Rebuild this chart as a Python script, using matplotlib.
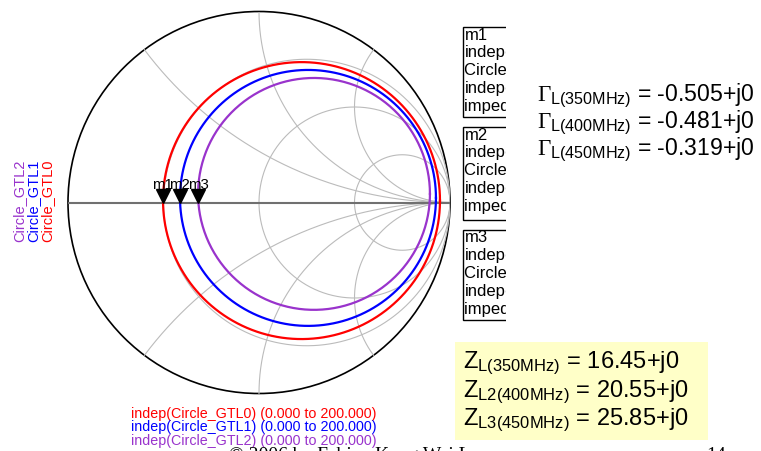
import numpy as np
import matplotlib
matplotlib.use('Agg')
import matplotlib.pyplot as plt
from matplotlib.patches import Rectangle, Circle
from matplotlib.transforms import offset_copy

plt.rcParams['font.family'] = ['Liberation Sans', 'DejaVu Sans']
plt.rcParams['mathtext.fontset'] = 'custom'
plt.rcParams['mathtext.rm'] = 'Liberation Serif'
plt.rcParams['mathtext.sf'] = 'Liberation Sans'
plt.rcParams['mathtext.it'] = 'Liberation Serif:italic'

W, H = 761, 451

# traces (reflection-coefficient plane)
trace_names = ['Circle_GTL0', 'Circle_GTL1', 'Circle_GTL2']
trace_colors = ['#FF0000', '#0000FF', '#9933CC']
trace_cx = [0.2225, 0.2565, 0.288]
trace_cy = [0.010, 0.024, 0.045]
trace_r = [0.725, 0.670, 0.607]

marker_names = ['m1', 'm2', 'm3']
marker_gamma = [-0.503, -0.414, -0.319]
marker_impedance = [0.329, 0.411, 0.517]

sweep_start, sweep_stop = 0.0, 200.0

gamma_freqs = ['350MHz', '400MHz', '450MHz']
gamma_values = ['-0.505+j0', '-0.481+j0', '-0.319+j0']
z_subs = ['L(350MHz)', 'L2(400MHz)', 'L3(450MHz)']
z_values = ['16.45+j0', '20.55+j0', '25.85+j0']

grid_r = [1 / 3, 1, 3]
grid_x = [0.5, 1, 2]
grid_col = '#BBBBBB'


def fx(px):
    return px / W


def fy(py):
    return 1 - py / H


fig = plt.figure(figsize=(W / 100, H / 100), dpi=100)

# smith chart
ax = fig.add_axes([fx(68), fy(393.5), 382 / W, 382 / H])
ax.set_xlim(-1, 1)
ax.set_ylim(-1, 1)
ax.set_axis_off()

t = np.linspace(0, 2 * np.pi, 500)
for r in grid_r:
    c = r / (1 + r)
    rad = 1 / (1 + r)
    ax.plot(c + rad * np.cos(t), rad * np.sin(t), color=grid_col, lw=0.8)
rr = np.concatenate([[0], np.logspace(-3, 3, 600)])
for x in grid_x:
    for s in (1, -1):
        z = rr + 1j * s * x
        g = (z - 1) / (z + 1)
        ax.plot(g.real, g.imag, color=grid_col, lw=0.8)

ax.add_patch(Circle((0, 0), 1, fill=False, ec='black', lw=1.2, clip_on=False))
ax.plot([-1, 1], [0, 0], color='#707070', lw=1.5)

for cx, cy, r, col in zip(trace_cx, trace_cy, trace_r, trace_colors):
    ax.plot(cx + r * np.cos(t), cy + r * np.sin(t), color=col, lw=1.6)

tri = offset_copy(ax.transData, fig=fig, y=4.6, units='points')
lab = offset_copy(ax.transData, fig=fig, y=9.8, units='points')
for name, mg in zip(marker_names, marker_gamma):
    ax.plot(mg, 0, marker='v', ms=9.5, color='black', transform=tri, clip_on=False)
    ax.text(mg, 0, name, transform=lab, ha='center', va='baseline', fontsize=10.8)

# trace names on the left
for i, (name, col) in enumerate(zip(trace_names[::-1], trace_colors[::-1])):
    fig.text(fx(19 + i * 14), fy(201), name, rotation=90, color=col,
             ha='center', va='center', fontsize=10.5)

# sweep ranges below
for i, (name, col) in enumerate(zip(trace_names, trace_colors)):
    fig.text(fx(131), fy(414 + i * 13.4),
             'indep(%s) (%.3f to %.3f)' % (name, sweep_start, sweep_stop),
             color=col, ha='left', va='center', fontsize=10.3)

# marker readout boxes (cut off on the right as in the original)
bax = fig.add_axes([fx(461), fy(325), (506 - 461) / W, (325 - 20) / H])
bax.set_xlim(461, 506)
bax.set_ylim(325, 20)
bax.set_axis_off()
box_tops = [27, 127, 230]
box_h = [90, 93, 90]
for k, (top, h) in enumerate(zip(box_tops, box_h)):
    bax.add_patch(Rectangle((463, top), 80, h, fill=False, ec='black', lw=1.0, clip_on=True))
    lines = [marker_names[k],
             'indep(%s)=0.000' % marker_names[k],
             '%s=%.3f / 180.000' % (trace_names[k], abs(marker_gamma[k])),
             'indep(%s)=0.000' % trace_names[k],
             'impedance = Z0 * (%.3f + j0.000)' % marker_impedance[k]]
    for j, line in enumerate(lines):
        bax.text(464.5, top + 8 + j * 17.8, line, va='center', ha='left',
                 fontsize=12, clip_on=True)

# reflection coefficients
for i, (f, v) in enumerate(zip(gamma_freqs, gamma_values)):
    fig.text(fx(537), fy(101 + i * 27),
             r'$\mathrm{\Gamma}_{\mathsf{L(%s)}}$ = %s' % (f, v),
             fontsize=16.6, va='baseline', ha='left')

# load impedances in yellow box
fig.add_artist(Rectangle((fx(455), fy(440)), (708 - 455) / W, (440 - 342) / H,
                         transform=fig.transFigure, fc='#FFFFC8', ec='none', zorder=0))
for i, (s, v) in enumerate(zip(z_subs, z_values)):
    fig.text(fx(463), fy(368 + i * 28.5),
             r'$\mathsf{Z}_{\mathsf{%s}}$ = %s' % (s, v),
             fontsize=17, va='baseline', ha='left')

# page footer, mostly cut off by the bottom edge
fig.text(fx(229), fy(459.5), '\u00a9 2006 by Fabian Kung Wai Lee',
         family='Liberation Serif', fontsize=14, va='baseline')
fig.text(fx(706), fy(459.5), '14', family='Liberation Serif', fontsize=14, va='baseline')

fig.savefig('out.png', dpi=100)
